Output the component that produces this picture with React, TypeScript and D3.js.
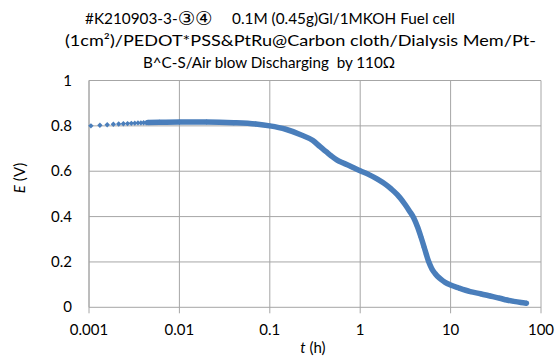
import React from "react";
import * as d3 from "d3";

// ---- data ----
const titleLine1A = "#K210903-3-";
const titleLine1B = "③④";
const titleLine1C = "     0.1M (0.45g)Gl/1MKOH Fuel cell";
const titleLine2 = "(1cm²)/PEDOT*PSS&PtRu@Carbon cloth/Dialysis Mem/Pt-";
const titleLine3 = "B^C-S/Air blow Discharging  by 110Ω";

// sparse early samples (individual markers)
const earlyT = [0.00105, 0.00132, 0.00159, 0.00186, 0.00213, 0.0024, 0.00267, 0.00294, 0.00321, 0.00348, 0.00375, 0.00402, 0.00429];
const earlyE = [0.800, 0.803, 0.805, 0.807, 0.808, 0.809, 0.810, 0.811, 0.812, 0.813, 0.813, 0.814, 0.814];

// dense samples (markers merge into a thick band)
const denseT = [0.0045, 0.006, 0.01, 0.02, 0.04, 0.07, 0.1, 0.15, 0.216, 0.3, 0.36, 0.42, 0.48, 0.55, 0.65, 0.8, 1.0, 1.25, 1.55, 1.94, 2.2, 2.57, 2.8, 3.15, 3.5, 3.9, 4.3, 4.7, 5.1, 5.4, 5.7, 6.0, 6.3, 6.7, 7.2, 7.9, 8.7, 10, 12.3, 16.5, 21.4, 27.4, 35, 42, 50, 60, 69];
const denseE = [0.815, 0.816, 0.817, 0.817, 0.814, 0.808, 0.800, 0.785, 0.762, 0.735, 0.708, 0.686, 0.667, 0.650, 0.636, 0.620, 0.602, 0.585, 0.565, 0.540, 0.522, 0.497, 0.480, 0.452, 0.425, 0.395, 0.355, 0.310, 0.265, 0.232, 0.203, 0.182, 0.165, 0.150, 0.136, 0.122, 0.110, 0.098, 0.085, 0.069, 0.060, 0.050, 0.040, 0.032, 0.026, 0.021, 0.018];

const xTicks = [0.001, 0.01, 0.1, 1, 10, 100];
const xTickLabels = ["0.001", "0.01", "0.1", "1", "10", "100"];
const yTicks = [0, 0.2, 0.4, 0.6, 0.8, 1];
const yTickLabels = ["0", "0.2", "0.4", "0.6", "0.8", "1"];

// ---- layout / style ----
const W = 560, H = 358;
const L = 89, R = 541, T = 80.5, B = 307.3;
const BLUE = "#4a7ebb";
const GRID = "#a6a6a6";
const FONT = "Lato, 'Open Sans', sans-serif";

export default function App() {
  const x = d3.scaleLog().domain([0.001, 100]).range([L, R]);
  const y = d3.scaleLinear().domain([0, 1]).range([B, T]);

  const dense = denseT.map((t, i) => [t, denseE[i]] as [number, number]);
  const early = earlyT.map((t, i) => [t, earlyE[i]] as [number, number]);
  const line = d3
    .line<[number, number]>()
    .x((d) => x(d[0]))
    .y((d) => y(d[1]))
    .curve(d3.curveMonotoneX);

  const diamond = (cx: number, cy: number, r: number) =>
    `M${cx},${cy - r}L${cx + r},${cy}L${cx},${cy + r}L${cx - r},${cy}Z`;

  const pre = { whiteSpace: "pre" as const };

  return (
    <svg
      width={W}
      height={H}
      style={{ position: "absolute", left: 0, top: 0, background: "#fff" }}
      fontFamily={FONT}
    >
      {/* title */}
      <text x={85} y={24} fontSize={15} fill="#000" style={pre} textLength={370} lengthAdjust="spacingAndGlyphs">
        {titleLine1A}
        <tspan fontFamily="'DejaVu Sans', sans-serif" fontSize={19} dy={1}>{titleLine1B}</tspan>
        <tspan dy={-1}>{titleLine1C}</tspan>
      </text>
      <text x={65} y={46} fontSize={15} fill="#000" style={pre} textLength={471} lengthAdjust="spacingAndGlyphs">
        {titleLine2}
      </text>
      <text x={143} y={68} fontSize={15} fill="#000" style={pre} textLength={252} lengthAdjust="spacingAndGlyphs">
        {titleLine3}
      </text>

      {/* horizontal gridlines */}
      {yTicks.map((v) => (
        <line key={"h" + v} x1={L} x2={R} y1={y(v)} y2={y(v)} stroke={GRID} strokeWidth={1} />
      ))}
      {/* vertical gridlines + ticks */}
      {xTicks.map((v) => (
        <line key={"v" + v} x1={x(v)} x2={x(v)} y1={T} y2={B + 6} stroke={GRID} strokeWidth={1} />
      ))}
      {/* left axis */}
      <line x1={L} x2={L} y1={T} y2={B} stroke={GRID} strokeWidth={1} />

      {/* y tick labels */}
      {yTicks.map((v, i) => (
        <text key={"yl" + v} x={72} y={y(v) + 5} textAnchor="end" fontSize={15} fill="#000">
          {yTickLabels[i]}
        </text>
      ))}
      {/* x tick labels */}
      {xTicks.map((v, i) => (
        <text key={"xl" + v} x={x(v)} y={335} textAnchor="middle" fontSize={15} fill="#000">
          {xTickLabels[i]}
        </text>
      ))}

      {/* axis titles */}
      <text x={313} y={353} textAnchor="middle" fontSize={15} fill="#000">
        <tspan fontStyle="italic">t</tspan> (h)
      </text>
      <text transform="translate(25,178) rotate(-90)" textAnchor="middle" fontSize={15} fill="#000">
        <tspan fontStyle="italic">E</tspan> (V)
      </text>

      {/* data */}
      <path d={line(dense) || ""} fill="none" stroke={BLUE} strokeWidth={5.5} strokeLinecap="round" strokeLinejoin="round" />
      {early.map((d, i) => (
        <path key={"e" + i} d={diamond(x(d[0]), y(d[1]), 2.7)} fill={BLUE} />
      ))}
      {dense.map((d, i) => (
        <path key={"d" + i} d={diamond(x(d[0]), y(d[1]), 2.7)} fill={BLUE} />
      ))}
    </svg>
  );
}
